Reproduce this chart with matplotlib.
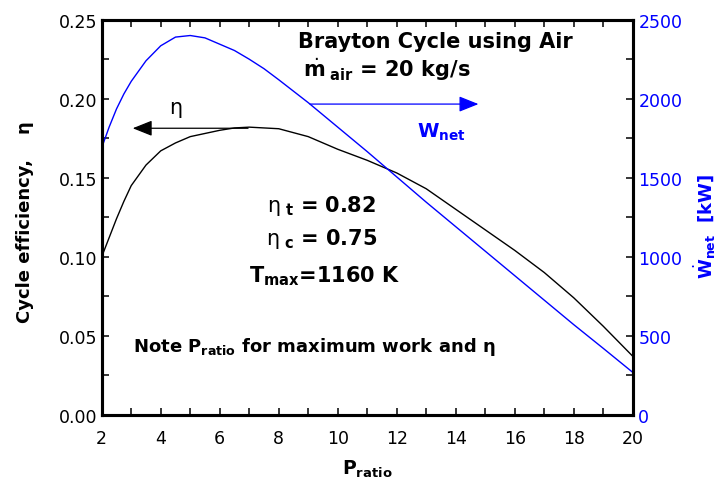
import numpy as np
import matplotlib
matplotlib.use("Agg")
import matplotlib.pyplot as plt
from matplotlib.patches import ArrowStyle

plt.rcParams["font.family"] = ["DejaVu Sans"]
plt.rcParams["mathtext.fontset"] = "dejavusans"

# ── cycle results vs pressure ratio ─────────────────────────────────────────
p_ratio = [2, 2.25, 2.5, 2.75, 3, 3.5, 4, 4.5, 5, 5.5, 6, 6.5, 7, 7.5, 8,
           9, 10, 11, 12, 13, 14, 15, 16, 17, 18, 19, 20]
eta = [0.100, 0.112, 0.124, 0.135, 0.145, 0.158, 0.167, 0.172, 0.176, 0.178,
       0.180, 0.1815, 0.182, 0.1815, 0.181, 0.176, 0.168, 0.161, 0.153, 0.143,
       0.130, 0.117, 0.104, 0.090, 0.074, 0.056, 0.037]
w_net = [1690, 1820, 1935, 2030, 2110, 2240, 2335, 2390, 2400, 2385,
         2345, 2305, 2250, 2190, 2120, 1975, 1820, 1665, 1505, 1345,
         1190, 1035, 880, 725, 570, 420, 268]

BLUE = "#0000ff"

fig = plt.figure(figsize=(7.2, 4.85), dpi=100)
ax = fig.add_axes([0.1413, 0.1429, 0.7375, 0.8144])
ax2 = ax.twinx()

ax.plot(p_ratio, eta, color="black", lw=1.0)
ax2.plot(p_ratio, w_net, color=BLUE, lw=1.0)

ax.set_xlim(2, 20)
ax.set_ylim(0, 0.25)
ax2.set_ylim(0, 2500)

ax.set_xticks(np.arange(2, 21, 2))
ax.set_xticks(np.arange(3, 20, 2), minor=True)
ax.set_yticks(np.arange(0, 0.251, 0.05))
ax.set_yticks(np.arange(0.025, 0.25, 0.05), minor=True)
ax.set_yticklabels([f"{v:.2f}" for v in np.arange(0, 0.251, 0.05)])
ax2.set_yticks(np.arange(0, 2501, 500))
ax2.set_yticks(np.arange(250, 2500, 500), minor=True)

for a in (ax, ax2):
    for s in a.spines.values():
        s.set_linewidth(2.2)
ax.tick_params(which="both", direction="in", length=5, width=1.1,
               top=True, right=False, labelsize=12.5)
ax.tick_params(axis="x", which="both", pad=10)
ax.tick_params(axis="y", which="both", pad=3)
ax2.tick_params(which="both", direction="in", length=5, width=1.1,
                labelsize=12.5, labelcolor=BLUE, pad=4)

ax.set_xlabel(r"$\mathbf{P}_{\mathbf{ratio}}$", fontsize=13.5)
ax.xaxis.set_label_coords(0.5, -0.108)
ax.set_ylabel("Cycle efficiency,    η", fontsize=13, fontweight="bold")
ax.yaxis.set_label_coords(-0.128, 0.49)
ax2.set_ylabel(r"$\dot{\mathbf{W}}_{\mathbf{net}}$  [kW]", fontsize=13,
               fontweight="bold", color=BLUE)
ax2.yaxis.set_label_coords(1.112, 0.48)

# ── annotations ─────────────────────────────────────────────────────────────
ax.text(8.65, 0.2327, "Brayton Cycle using Air", fontsize=15,
        fontweight="bold", ha="left", va="baseline")
ax.text(8.83, 0.2143, r"$\dot{\mathbf{m}}_{\ \mathbf{air}}$ = 20 kg/s",
        fontsize=15, fontweight="bold", ha="left", va="baseline")

head = ArrowStyle("-|>", head_length=0.5, head_width=0.2)
ax.annotate("", xy=(3.05, 0.1813), xytext=(6.96, 0.1813),
            arrowprops=dict(arrowstyle=head, mutation_scale=24,
                            color="black", lw=0.9, shrinkA=0, shrinkB=0))
ax.text(4.49, 0.1948, "η", fontsize=15, ha="center", va="center")

ax2.annotate("", xy=(14.77, 1966), xytext=(9.06, 1966),
             arrowprops=dict(arrowstyle=head, mutation_scale=24,
                             color=BLUE, lw=0.9, shrinkA=0, shrinkB=0))
ax2.text(12.69, 1757, r"$\mathbf{W}_{\mathbf{net}}$", fontsize=14,
         color=BLUE, ha="left", va="baseline")

ax.text(9.45, 0.1288, r"$\mathrm{\eta}_{\ \mathbf{t}}$ = 0.82", fontsize=15,
        fontweight="bold", ha="center", va="baseline")
ax.text(9.45, 0.1079, r"$\mathrm{\eta}_{\ \mathbf{c}}$ = 0.75", fontsize=15,
        fontweight="bold", ha="center", va="baseline")
ax.text(9.57, 0.0846, r"$\mathbf{T}_{\mathbf{max}}$=1160 K", fontsize=15,
        fontweight="bold", ha="center", va="baseline")

ax.text(3.06, 0.0403, r"Note $\mathbf{P}_{\mathbf{ratio}}$ for maximum work and η",
        fontsize=13, fontweight="bold", ha="left", va="baseline")

fig.savefig("out.png", dpi=100)
